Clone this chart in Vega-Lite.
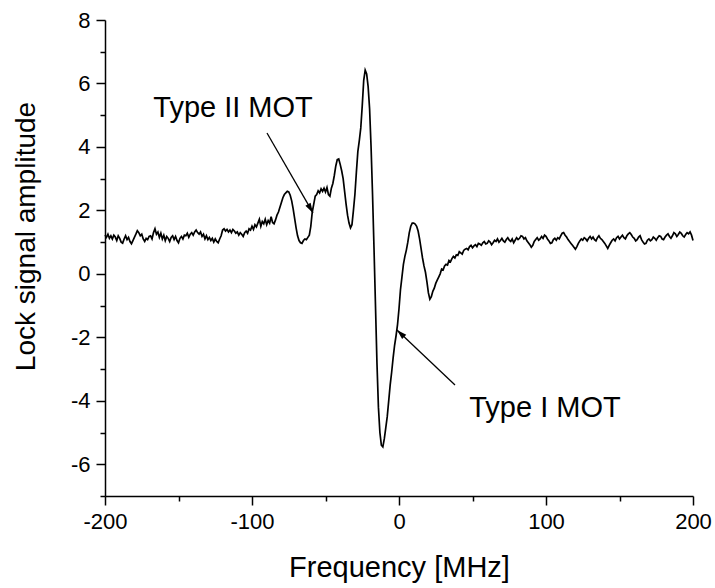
{
  "$schema": "https://vega.github.io/schema/vega-lite/v6.json",
  "width": 588,
  "height": 476,
  "autosize": {"type": "none"},
  "padding": {"left": 105, "top": 20, "right": 22, "bottom": 92},
  "background": "white",
  "config": {
    "view": {"stroke": null},
    "font": "Liberation Sans",
    "axis": {"domainColor": "black", "domainWidth": 1.5, "tickColor": "black", "tickWidth": 1.5, "labelColor": "black", "titleColor": "black", "labelFont": "Liberation Sans", "titleFont": "Liberation Sans", "labelFontSize": 22, "titleFontSize": 29, "titleFontWeight": "normal", "grid": false, "labelPadding": 6}
  },
  "resolve": {"axis": {"x": "independent", "y": "independent"}},
  "datasets": {
    "signal": [
      {"f": -200, "a": 1.22}, {"f": -199, "a": 1.15}, {"f": -198, "a": 1.25}, {"f": -197, "a": 1.12}, {"f": -196, "a": 1.2}, {"f": -195, "a": 1.1}, {"f": -194, "a": 1.22}, {"f": -193, "a": 1.16}, {"f": -192, "a": 1.05}, {"f": -191, "a": 1.2}, {"f": -190, "a": 1.12}, {"f": -189, "a": 1.0}, {"f": -188, "a": 0.97}, {"f": -187, "a": 1.1}, {"f": -186, "a": 1.2}, {"f": -185, "a": 1.08}, {"f": -184, "a": 1.15}, {"f": -183, "a": 1.02}, {"f": -182, "a": 0.95}, {"f": -181, "a": 1.05}, {"f": -180, "a": 1.15}, {"f": -179, "a": 1.25}, {"f": -178, "a": 1.36}, {"f": -177, "a": 1.3}, {"f": -176, "a": 1.2}, {"f": -175, "a": 1.25}, {"f": -174, "a": 1.1}, {"f": -173, "a": 1.02}, {"f": -172, "a": 1.12}, {"f": -171, "a": 1.08}, {"f": -170, "a": 1.18}, {"f": -169, "a": 1.2}, {"f": -168, "a": 1.1}, {"f": -167, "a": 1.3}, {"f": -166, "a": 1.42}, {"f": -165, "a": 1.25}, {"f": -164, "a": 1.32}, {"f": -163, "a": 1.15}, {"f": -162, "a": 1.28}, {"f": -161, "a": 1.1}, {"f": -160, "a": 1.22}, {"f": -159, "a": 1.05}, {"f": -158, "a": 1.18}, {"f": -157, "a": 1.12}, {"f": -156, "a": 1.02}, {"f": -155, "a": 1.15}, {"f": -154, "a": 1.2}, {"f": -153, "a": 1.08}, {"f": -152, "a": 1.18}, {"f": -151, "a": 1.05}, {"f": -150, "a": 0.98}, {"f": -149, "a": 1.12}, {"f": -148, "a": 1.18}, {"f": -147, "a": 1.1}, {"f": -146, "a": 1.22}, {"f": -145, "a": 1.2}, {"f": -144, "a": 1.28}, {"f": -143, "a": 1.15}, {"f": -142, "a": 1.25}, {"f": -141, "a": 1.3}, {"f": -140, "a": 1.22}, {"f": -139, "a": 1.32}, {"f": -138, "a": 1.38}, {"f": -137, "a": 1.3}, {"f": -136, "a": 1.25}, {"f": -135, "a": 1.32}, {"f": -134, "a": 1.18}, {"f": -133, "a": 1.25}, {"f": -132, "a": 1.1}, {"f": -131, "a": 1.2}, {"f": -130, "a": 1.08}, {"f": -129, "a": 1.15}, {"f": -128, "a": 1.05}, {"f": -127, "a": 1.12}, {"f": -126, "a": 1.0}, {"f": -125, "a": 1.1}, {"f": -124, "a": 1.02}, {"f": -123, "a": 0.98}, {"f": -122, "a": 1.1}, {"f": -121, "a": 1.2}, {"f": -120, "a": 1.38}, {"f": -119, "a": 1.42}, {"f": -118, "a": 1.35}, {"f": -117, "a": 1.4}, {"f": -116, "a": 1.32}, {"f": -115, "a": 1.38}, {"f": -114, "a": 1.3}, {"f": -113, "a": 1.4}, {"f": -112, "a": 1.35}, {"f": -111, "a": 1.28}, {"f": -110, "a": 1.32}, {"f": -109, "a": 1.22}, {"f": -108, "a": 1.3}, {"f": -107, "a": 1.25}, {"f": -106, "a": 1.18}, {"f": -105, "a": 1.3}, {"f": -104, "a": 1.35}, {"f": -103, "a": 1.28}, {"f": -102, "a": 1.42}, {"f": -101, "a": 1.38}, {"f": -100, "a": 1.5}, {"f": -99, "a": 1.4}, {"f": -98, "a": 1.55}, {"f": -97, "a": 1.48}, {"f": -96, "a": 1.6}, {"f": -95, "a": 1.72}, {"f": -94, "a": 1.5}, {"f": -93, "a": 1.65}, {"f": -92, "a": 1.58}, {"f": -91, "a": 1.72}, {"f": -90, "a": 1.55}, {"f": -89, "a": 1.68}, {"f": -88, "a": 1.6}, {"f": -87, "a": 1.8}, {"f": -86, "a": 1.62}, {"f": -85, "a": 1.58}, {"f": -84, "a": 1.7}, {"f": -83, "a": 1.85}, {"f": -82, "a": 1.95}, {"f": -81, "a": 2.1}, {"f": -80, "a": 2.25}, {"f": -79, "a": 2.4}, {"f": -78, "a": 2.5}, {"f": -77, "a": 2.55}, {"f": -76, "a": 2.6}, {"f": -75, "a": 2.58}, {"f": -74, "a": 2.48}, {"f": -73, "a": 2.3}, {"f": -72, "a": 2.05}, {"f": -71, "a": 1.75}, {"f": -70, "a": 1.45}, {"f": -69, "a": 1.2}, {"f": -68, "a": 1.05}, {"f": -67, "a": 0.98}, {"f": -66, "a": 0.96}, {"f": -65, "a": 1.05}, {"f": -64, "a": 1.1}, {"f": -63, "a": 1.08}, {"f": -62, "a": 1.15}, {"f": -61, "a": 1.22}, {"f": -60, "a": 1.5}, {"f": -59, "a": 1.95}, {"f": -58, "a": 2.2}, {"f": -57, "a": 2.45}, {"f": -56, "a": 2.5}, {"f": -55, "a": 2.62}, {"f": -54, "a": 2.55}, {"f": -53, "a": 2.68}, {"f": -52, "a": 2.6}, {"f": -51, "a": 2.7}, {"f": -50, "a": 2.58}, {"f": -49, "a": 2.72}, {"f": -48, "a": 2.5}, {"f": -47, "a": 2.45}, {"f": -46, "a": 2.7}, {"f": -45, "a": 2.85}, {"f": -44, "a": 3.1}, {"f": -43, "a": 3.4}, {"f": -42, "a": 3.6}, {"f": -41, "a": 3.62}, {"f": -40, "a": 3.45}, {"f": -39, "a": 3.25}, {"f": -38, "a": 3.0}, {"f": -37, "a": 2.6}, {"f": -36, "a": 2.2}, {"f": -35, "a": 1.85}, {"f": -34, "a": 1.6}, {"f": -33, "a": 1.45}, {"f": -32, "a": 1.55}, {"f": -31, "a": 2.0}, {"f": -30, "a": 2.5}, {"f": -29, "a": 3.2}, {"f": -28, "a": 3.85}, {"f": -27, "a": 4.2}, {"f": -26, "a": 4.6}, {"f": -25, "a": 5.3}, {"f": -24, "a": 6.1}, {"f": -23, "a": 6.42}, {"f": -22, "a": 6.3}, {"f": -21, "a": 5.9}, {"f": -20, "a": 5.2}, {"f": -19, "a": 4.0}, {"f": -18, "a": 2.5}, {"f": -17, "a": 0.8}, {"f": -16, "a": -1.0}, {"f": -15, "a": -2.8}, {"f": -14, "a": -4.2}, {"f": -13, "a": -5.0}, {"f": -12, "a": -5.4}, {"f": -11, "a": -5.45}, {"f": -10, "a": -5.2}, {"f": -9, "a": -4.85}, {"f": -8, "a": -4.5}, {"f": -7, "a": -4.0}, {"f": -6, "a": -3.5}, {"f": -5, "a": -3.1}, {"f": -4, "a": -2.65}, {"f": -3, "a": -2.25}, {"f": -2, "a": -1.95}, {"f": -1, "a": -1.6}, {"f": 0, "a": -1.1}, {"f": 1, "a": -0.5}, {"f": 2, "a": -0.1}, {"f": 3, "a": 0.3}, {"f": 4, "a": 0.55}, {"f": 5, "a": 0.75}, {"f": 6, "a": 1.0}, {"f": 7, "a": 1.3}, {"f": 8, "a": 1.5}, {"f": 9, "a": 1.6}, {"f": 10, "a": 1.6}, {"f": 11, "a": 1.57}, {"f": 12, "a": 1.5}, {"f": 13, "a": 1.35}, {"f": 14, "a": 1.1}, {"f": 15, "a": 0.8}, {"f": 16, "a": 0.5}, {"f": 17, "a": 0.25}, {"f": 18, "a": 0.05}, {"f": 19, "a": -0.25}, {"f": 20, "a": -0.6}, {"f": 21, "a": -0.8}, {"f": 22, "a": -0.72}, {"f": 23, "a": -0.55}, {"f": 24, "a": -0.45}, {"f": 25, "a": -0.3}, {"f": 26, "a": -0.2}, {"f": 27, "a": -0.1}, {"f": 28, "a": 0.0}, {"f": 29, "a": 0.15}, {"f": 30, "a": 0.12}, {"f": 31, "a": 0.25}, {"f": 32, "a": 0.3}, {"f": 33, "a": 0.28}, {"f": 34, "a": 0.42}, {"f": 35, "a": 0.38}, {"f": 36, "a": 0.48}, {"f": 37, "a": 0.55}, {"f": 38, "a": 0.5}, {"f": 39, "a": 0.6}, {"f": 40, "a": 0.58}, {"f": 41, "a": 0.7}, {"f": 42, "a": 0.66}, {"f": 43, "a": 0.62}, {"f": 44, "a": 0.74}, {"f": 45, "a": 0.78}, {"f": 46, "a": 0.8}, {"f": 47, "a": 0.76}, {"f": 48, "a": 0.86}, {"f": 49, "a": 0.9}, {"f": 50, "a": 0.82}, {"f": 51, "a": 0.88}, {"f": 52, "a": 0.92}, {"f": 53, "a": 0.86}, {"f": 54, "a": 0.96}, {"f": 55, "a": 0.94}, {"f": 56, "a": 0.9}, {"f": 57, "a": 0.98}, {"f": 58, "a": 1.02}, {"f": 59, "a": 0.94}, {"f": 60, "a": 0.96}, {"f": 61, "a": 1.04}, {"f": 62, "a": 1.0}, {"f": 63, "a": 0.92}, {"f": 64, "a": 0.98}, {"f": 65, "a": 1.06}, {"f": 66, "a": 1.02}, {"f": 67, "a": 1.1}, {"f": 68, "a": 1.0}, {"f": 69, "a": 1.05}, {"f": 70, "a": 1.12}, {"f": 71, "a": 1.04}, {"f": 72, "a": 1.0}, {"f": 73, "a": 1.08}, {"f": 74, "a": 1.14}, {"f": 75, "a": 1.06}, {"f": 76, "a": 1.02}, {"f": 77, "a": 1.1}, {"f": 78, "a": 0.98}, {"f": 79, "a": 1.06}, {"f": 80, "a": 1.14}, {"f": 81, "a": 1.08}, {"f": 82, "a": 1.12}, {"f": 83, "a": 1.2}, {"f": 84, "a": 1.18}, {"f": 85, "a": 1.1}, {"f": 86, "a": 1.14}, {"f": 87, "a": 1.04}, {"f": 88, "a": 0.98}, {"f": 89, "a": 0.92}, {"f": 90, "a": 0.84}, {"f": 91, "a": 0.9}, {"f": 92, "a": 1.02}, {"f": 93, "a": 1.08}, {"f": 94, "a": 1.14}, {"f": 95, "a": 1.06}, {"f": 96, "a": 1.1}, {"f": 97, "a": 1.18}, {"f": 98, "a": 1.12}, {"f": 99, "a": 1.22}, {"f": 100, "a": 1.18}, {"f": 101, "a": 1.1}, {"f": 102, "a": 1.04}, {"f": 103, "a": 0.96}, {"f": 104, "a": 0.98}, {"f": 105, "a": 1.08}, {"f": 106, "a": 1.12}, {"f": 107, "a": 1.06}, {"f": 108, "a": 1.14}, {"f": 109, "a": 1.1}, {"f": 110, "a": 1.2}, {"f": 111, "a": 1.28}, {"f": 112, "a": 1.3}, {"f": 113, "a": 1.22}, {"f": 114, "a": 1.16}, {"f": 115, "a": 1.08}, {"f": 116, "a": 1.02}, {"f": 117, "a": 0.96}, {"f": 118, "a": 0.9}, {"f": 119, "a": 0.84}, {"f": 120, "a": 0.78}, {"f": 121, "a": 0.86}, {"f": 122, "a": 0.96}, {"f": 123, "a": 1.04}, {"f": 124, "a": 1.1}, {"f": 125, "a": 1.06}, {"f": 126, "a": 1.14}, {"f": 127, "a": 1.1}, {"f": 128, "a": 1.04}, {"f": 129, "a": 1.12}, {"f": 130, "a": 1.18}, {"f": 131, "a": 1.1}, {"f": 132, "a": 1.16}, {"f": 133, "a": 1.08}, {"f": 134, "a": 1.04}, {"f": 135, "a": 1.14}, {"f": 136, "a": 1.2}, {"f": 137, "a": 1.12}, {"f": 138, "a": 1.08}, {"f": 139, "a": 1.02}, {"f": 140, "a": 0.96}, {"f": 141, "a": 0.88}, {"f": 142, "a": 0.8}, {"f": 143, "a": 0.9}, {"f": 144, "a": 0.98}, {"f": 145, "a": 1.06}, {"f": 146, "a": 1.1}, {"f": 147, "a": 1.04}, {"f": 148, "a": 1.14}, {"f": 149, "a": 1.18}, {"f": 150, "a": 1.1}, {"f": 151, "a": 1.16}, {"f": 152, "a": 1.22}, {"f": 153, "a": 1.14}, {"f": 154, "a": 1.1}, {"f": 155, "a": 1.2}, {"f": 156, "a": 1.26}, {"f": 157, "a": 1.3}, {"f": 158, "a": 1.24}, {"f": 159, "a": 1.16}, {"f": 160, "a": 1.12}, {"f": 161, "a": 1.04}, {"f": 162, "a": 1.08}, {"f": 163, "a": 1.16}, {"f": 164, "a": 1.2}, {"f": 165, "a": 1.08}, {"f": 166, "a": 1.0}, {"f": 167, "a": 0.94}, {"f": 168, "a": 0.96}, {"f": 169, "a": 1.06}, {"f": 170, "a": 1.1}, {"f": 171, "a": 1.04}, {"f": 172, "a": 1.08}, {"f": 173, "a": 1.16}, {"f": 174, "a": 1.12}, {"f": 175, "a": 1.06}, {"f": 176, "a": 1.14}, {"f": 177, "a": 1.2}, {"f": 178, "a": 1.18}, {"f": 179, "a": 1.1}, {"f": 180, "a": 1.08}, {"f": 181, "a": 1.16}, {"f": 182, "a": 1.22}, {"f": 183, "a": 1.26}, {"f": 184, "a": 1.18}, {"f": 185, "a": 1.12}, {"f": 186, "a": 1.2}, {"f": 187, "a": 1.3}, {"f": 188, "a": 1.26}, {"f": 189, "a": 1.18}, {"f": 190, "a": 1.24}, {"f": 191, "a": 1.32}, {"f": 192, "a": 1.28}, {"f": 193, "a": 1.2}, {"f": 194, "a": 1.16}, {"f": 195, "a": 1.24}, {"f": 196, "a": 1.3}, {"f": 197, "a": 1.26}, {"f": 198, "a": 1.32}, {"f": 199, "a": 1.22}, {"f": 200, "a": 1.05}
    ],
    "arrowII": [{"x": -89.8, "y": 4.44, "x2": -58.5, "y2": 1.92}],
    "arrowI": [{"x": 38.1, "y": -3.5, "x2": -1.4, "y2": -1.77}],
    "labels": [
      {"x": -112.9, "y": 5.23, "text": "Type II MOT"},
      {"x": 99.3, "y": -4.23, "text": "Type I MOT"}
    ]
  },
  "layer": [
    {
      "data": {"name": "signal"},
      "mark": {"type": "line", "color": "black", "strokeWidth": 1.7, "interpolate": "linear"},
      "encoding": {
        "x": {"field": "f", "type": "quantitative", "scale": {"domain": [-200, 200], "nice": false, "zero": false},
          "axis": {"orient": "bottom", "title": "Frequency [MHz]", "values": [-200, -100, 0, 100, 200], "labelExpr": "'' + datum.value", "tickSize": 9, "titlePadding": 21, "labelFlush": false, "labelOverlap": false}},
        "y": {"field": "a", "type": "quantitative", "scale": {"domain": [-7, 8], "nice": false, "zero": false},
          "axis": {"orient": "left", "title": "Lock signal amplitude", "values": [-6, -4, -2, 0, 2, 4, 6, 8], "labelExpr": "'' + datum.value", "tickSize": 9, "titleFontSize": 28, "titlePadding": 30, "titleY": 216, "labelOverlap": false, "labelFlush": false}}
      }
    },
    {
      "data": {"name": "arrowII"},
      "mark": {"type": "rule", "color": "black", "strokeWidth": 1.3},
      "encoding": {
        "x": {"field": "x", "type": "quantitative", "axis": {"orient": "bottom", "values": [-150, -50, 50, 150], "tickSize": 5, "labels": false, "domain": false, "title": null}},
        "y": {"field": "y", "type": "quantitative", "axis": {"orient": "left", "values": [-7, -5, -3, -1, 1, 3, 5, 7], "tickSize": 5, "labels": false, "domain": false, "title": null}},
        "x2": {"field": "x2"}, "y2": {"field": "y2"}
      }
    },
    {
      "data": {"name": "arrowII"},
      "mark": {"type": "point", "shape": "M0,0L0.3,1L-0.3,1Z", "filled": true, "color": "black", "opacity": 1, "size": 400, "angle": 150},
      "encoding": {"x": {"field": "x2", "type": "quantitative", "axis": null}, "y": {"field": "y2", "type": "quantitative", "axis": null}}
    },
    {
      "data": {"name": "arrowI"},
      "mark": {"type": "rule", "color": "black", "strokeWidth": 1.3},
      "encoding": {"x": {"field": "x", "type": "quantitative", "axis": null}, "y": {"field": "y", "type": "quantitative", "axis": null}, "x2": {"field": "x2"}, "y2": {"field": "y2"}}
    },
    {
      "data": {"name": "arrowI"},
      "mark": {"type": "point", "shape": "M0,0L0.3,1L-0.3,1Z", "filled": true, "color": "black", "opacity": 1, "size": 400, "angle": 313.5},
      "encoding": {"x": {"field": "x2", "type": "quantitative", "axis": null}, "y": {"field": "y2", "type": "quantitative", "axis": null}}
    },
    {
      "data": {"name": "labels"},
      "mark": {"type": "text", "font": "Liberation Sans", "fontSize": 29, "color": "black", "align": "center", "baseline": "middle"},
      "encoding": {"x": {"field": "x", "type": "quantitative", "axis": null}, "y": {"field": "y", "type": "quantitative", "axis": null}, "text": {"field": "text"}}
    }
  ]
}
